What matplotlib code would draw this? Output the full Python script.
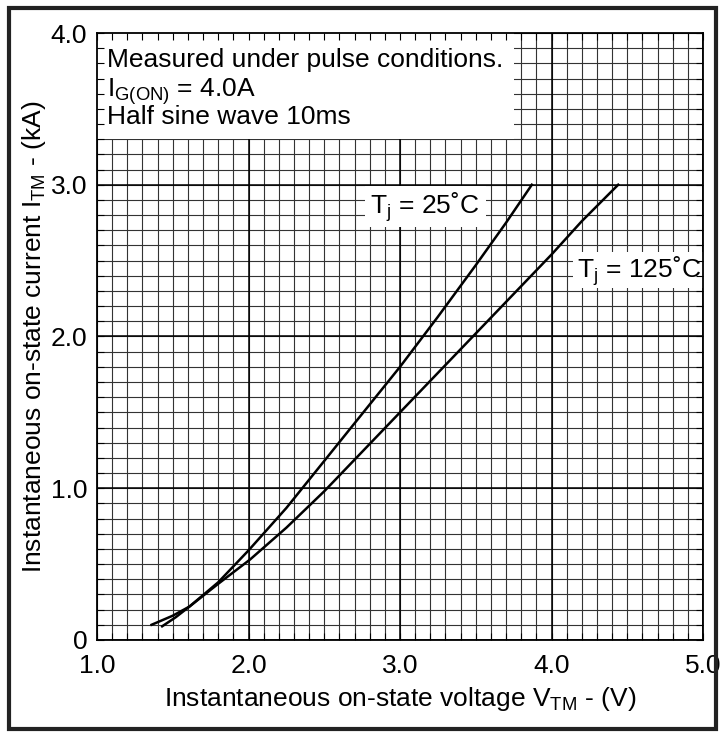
import numpy as np
import matplotlib
matplotlib.use('Agg')
import matplotlib.pyplot as plt
from matplotlib.patches import Rectangle

plt.rcParams['font.family'] = ['Liberation Sans', 'DejaVu Sans']
plt.rcParams['mathtext.fontset'] = 'custom'
plt.rcParams['mathtext.rm'] = 'Liberation Sans'
plt.rcParams['mathtext.it'] = 'Liberation Sans'

# Curves
v_25 = [1.36, 1.50, 1.61, 1.80, 2.00, 2.25, 2.50, 2.75, 3.00, 3.25, 3.50, 3.70, 3.87]
i_25 = [0.10, 0.16, 0.22, 0.38, 0.59, 0.87, 1.18, 1.49, 1.80, 2.13, 2.47, 2.75, 3.00]
v_125 = [1.43, 1.52, 1.61, 1.80, 2.01, 2.25, 2.50, 2.75, 3.00, 3.25, 3.50, 3.75, 4.00, 4.20, 4.44]
i_125 = [0.09, 0.15, 0.22, 0.37, 0.53, 0.74, 0.98, 1.24, 1.50, 1.76, 2.02, 2.28, 2.54, 2.76, 3.00]

x_ticks = [1.0, 2.0, 3.0, 4.0, 5.0]
x_labels = ['1.0', '2.0', '3.0', '4.0', '5.0']
y_ticks = [0, 1.0, 2.0, 3.0, 4.0]
y_labels = ['0', '1.0', '2.0', '3.0', '4.0']

fs = 19
fig = plt.figure(figsize=(7.25, 7.35), dpi=100)
ax = fig.add_axes([0.1338, 0.1293, 0.8359, 0.8258])
ax.set_xlim(1.0, 5.0)
ax.set_ylim(0, 4.0)

# graph-paper grid, drawn by hand so the white label boxes can sit on it
minor_x = np.round(np.arange(1.0, 5.001, 0.1), 2)
minor_y = np.round(np.arange(0.0, 4.001, 0.1), 2)
ax.vlines(minor_x, 0, 4, colors='#333333', linewidth=0.8, zorder=0.5)
ax.hlines(minor_y, 1, 5, colors='#333333', linewidth=0.8, zorder=0.5)
ax.vlines(x_ticks, 0, 4, colors='black', linewidth=1.1, zorder=0.6)
ax.hlines(y_ticks, 1, 5, colors='black', linewidth=1.1, zorder=0.6)

# white boxes behind the notes
ax.add_patch(Rectangle((1.0, 3.3), 2.75, 0.7, facecolor='white', edgecolor='none', zorder=1))
ax.add_patch(Rectangle((2.77, 2.72), 0.80, 0.27, facecolor='white', edgecolor='none', zorder=1))
ax.add_patch(Rectangle((4.14, 2.32), 0.86, 0.24, facecolor='white', edgecolor='none', zorder=1))

ax.plot(v_25, i_25, color='black', linewidth=1.8, zorder=3)
ax.plot(v_125, i_125, color='black', linewidth=1.8, zorder=3)

ax.text(1.066, 3.776, 'Measured under pulse conditions.', fontsize=fs, zorder=4)
ax.text(1.066, 3.578, r'I$_\mathregular{G(ON)}$ = 4.0A', fontsize=fs, zorder=4)
ax.text(1.066, 3.398, 'Half sine wave 10ms', fontsize=fs, zorder=4)
ax.text(2.80, 2.81, r'T$_\mathregular{j}$ = 25˚C', fontsize=fs, zorder=4)
ax.text(4.17, 2.385, r'T$_\mathregular{j}$ = 125˚C', fontsize=fs, zorder=4)

ax.set_xticks(x_ticks)
ax.set_xticklabels(x_labels)
ax.set_yticks(y_ticks)
ax.set_yticklabels(y_labels)
ax.set_xticks(minor_x, minor=True)
ax.set_yticks(minor_y, minor=True)
ax.tick_params(which='both', direction='in', top=True, right=True, length=5, width=0.8)
ax.tick_params(axis='x', which='major', labelsize=fs, pad=10)
ax.tick_params(axis='y', which='major', labelsize=fs, pad=7)
ax.set_axisbelow(False)
for s in ax.spines.values():
    s.set_linewidth(1.3)
    s.set_zorder(5)

ax.set_xlabel(r'Instantaneous on-state voltage V$_\mathregular{TM}$ - (V)', fontsize=fs, labelpad=5)
ax.set_ylabel(r'Instantaneous on-state current I$_\mathregular{TM}$ - (kA)', fontsize=fs, labelpad=2)

# outer frame
fig.patches.append(Rectangle((0.012, 0.008), 0.976, 0.981, transform=fig.transFigure,
                             fill=False, edgecolor='#222222', linewidth=3))

fig.savefig('out.png', dpi=100)
